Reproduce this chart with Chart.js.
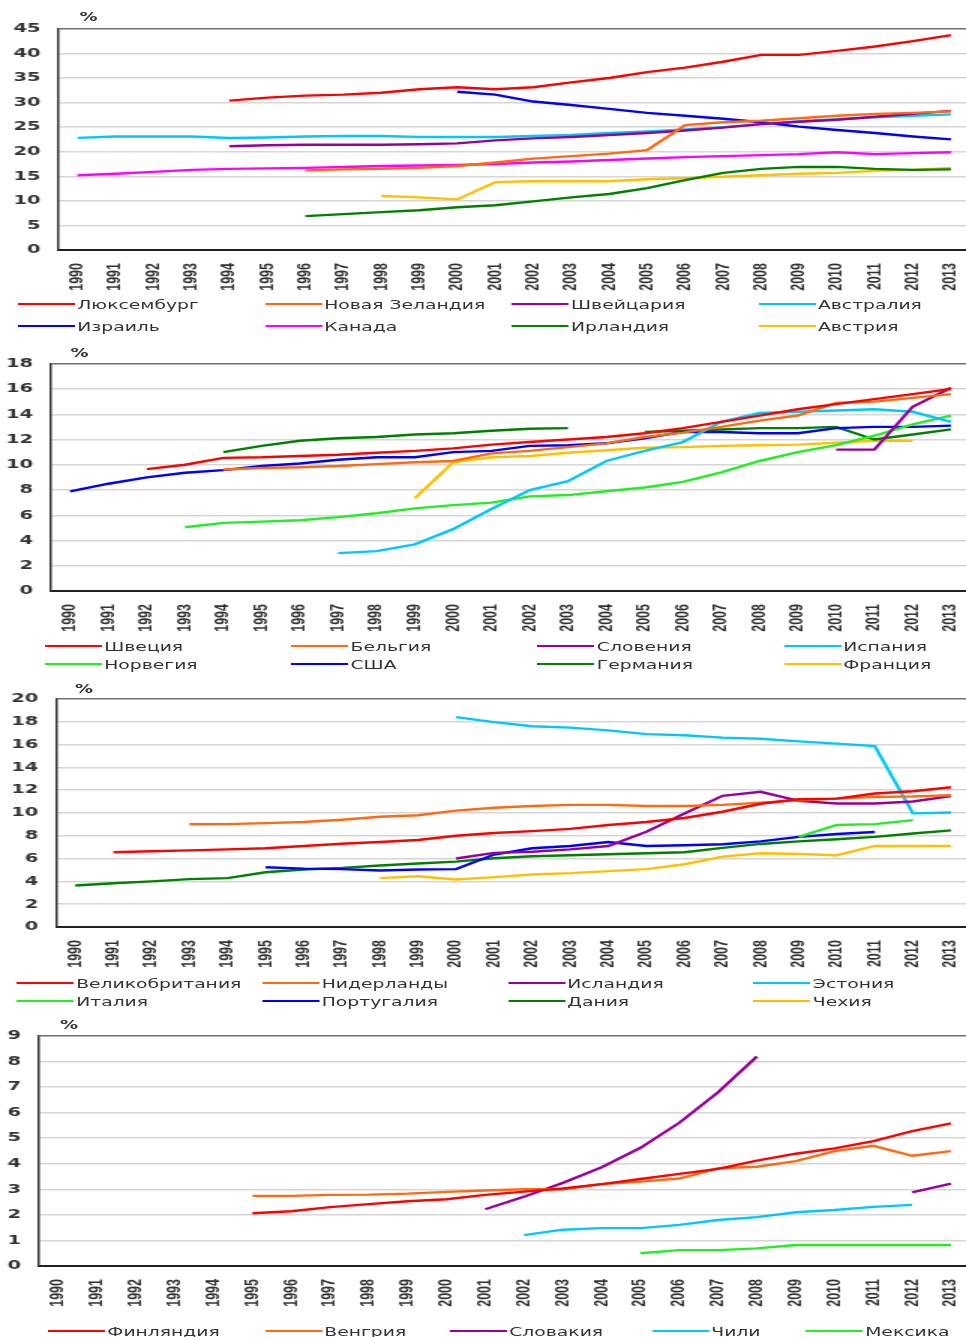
<!DOCTYPE html>
<html>
<head>
<meta charset="utf-8">
<script src="https://cdn.jsdelivr.net/npm/chart.js@4.4.1/dist/chart.umd.min.js"></script>
<style>
  html, body { margin:0; padding:0; overflow:hidden; background:#fff; width:966px; height:1337px; }
  #wrap { position:absolute; left:0; top:0; width:660px; height:1337px; transform:scaleX(1.5); transform-origin:0 0; }
  canvas { position:absolute; left:0; }
  .pct { position:absolute; font:bold 12px 'DejaVu Sans', sans-serif; color:#333; line-height:14px; }
  .lg { position:absolute; display:flex; align-items:center; height:16px; font:12.5px 'DejaVu Sans', sans-serif; color:#333; white-space:nowrap; }
  .sw { display:inline-block; width:38px; height:2.5px; margin-right:1.5px; }
</style>
</head>
<body>
<div id="wrap"></div>
<script>
// ---------- DATA ----------
const years = ['1990','1991','1992','1993','1994','1995','1996','1997','1998','1999','2000','2001',
               '2002','2003','2004','2005','2006','2007','2008','2009','2010','2011','2012','2013'];
const _ = null;

// Panel 1
const lux  = [_,_,_,_,30.4,31.0,31.4,31.6,32.0,32.7,33.1,32.7,33.1,34.1,35.0,36.2,37.1,38.3,39.7,39.7,40.5,41.4,42.5,43.7];
const nzl  = [_,_,_,_,_,_,16.2,16.4,16.5,16.7,17.1,17.8,18.6,19.1,19.6,20.3,25.4,26.0,26.3,26.8,27.3,27.7,27.9,28.2];
const che  = [_,_,_,_,21.1,21.3,21.4,21.4,21.4,21.5,21.7,22.3,22.7,23.0,23.4,23.8,24.3,24.9,25.6,26.1,26.5,27.1,27.7,28.3];
const aus  = [22.8,23.1,23.1,23.1,22.8,22.9,23.1,23.2,23.2,23.0,23.0,23.0,23.2,23.4,23.8,24.1,24.5,25.0,25.6,26.2,26.6,27.0,27.3,27.6];
const isr  = [_,_,_,_,_,_,_,_,_,_,32.2,31.6,30.2,29.5,28.7,27.9,27.3,26.7,26.0,25.1,24.4,23.8,23.1,22.5];
const can  = [15.2,15.5,15.9,16.3,16.5,16.6,16.7,16.9,17.1,17.2,17.3,17.5,17.8,18.0,18.3,18.6,18.9,19.1,19.3,19.5,19.9,19.5,19.7,19.9];
const irl  = [_,_,_,_,_,_,6.9,7.3,7.7,8.1,8.7,9.1,9.9,10.7,11.4,12.6,14.2,15.7,16.5,16.9,16.9,16.5,16.3,16.4];
const aut  = [_,_,_,_,_,_,_,_,11.0,10.7,10.3,13.8,14.0,14.0,14.0,14.4,14.6,14.9,15.2,15.5,15.7,16.1,16.3,16.7];

// Panel 2
const swe  = [_,_,9.66,10.0,10.55,10.6,10.7,10.8,10.95,11.1,11.3,11.6,11.8,12.0,12.2,12.5,12.9,13.4,13.9,14.4,14.8,15.2,15.6,16.0];
const bel  = [_,_,_,_,9.63,9.74,9.8,9.9,10.05,10.2,10.3,10.9,11.1,11.4,11.7,12.2,12.55,13.0,13.5,13.9,14.9,15.0,15.3,15.6];
const svn  = [_,_,_,_,_,_,_,_,_,_,_,_,_,_,_,_,_,_,_,_,11.2,11.2,14.6,16.1];
const esp  = [_,_,_,_,_,_,_,3.0,3.16,3.7,4.9,6.5,8.0,8.7,10.3,11.1,11.8,13.4,14.1,14.2,14.3,14.4,14.2,13.4];
const nor  = [_,_,_,5.05,5.4,5.5,5.6,5.85,6.16,6.55,6.8,7.0,7.5,7.6,7.9,8.2,8.65,9.4,10.3,11.0,11.55,12.3,13.2,13.9];
const usa  = [7.9,8.5,9.0,9.37,9.58,9.9,10.1,10.4,10.6,10.6,11.0,11.1,11.5,11.55,11.7,12.1,12.6,12.6,12.5,12.5,12.9,13.0,13.0,13.1];
const deu  = [_,_,_,_,11.0,11.5,11.9,12.1,12.2,12.4,12.5,12.7,12.85,12.9,_,12.6,12.7,12.8,12.9,12.9,13.0,12.0,12.4,12.8];
const fra  = [_,_,_,_,_,_,_,_,_,7.35,10.2,10.6,10.7,10.95,11.15,11.35,11.4,11.5,11.55,11.6,11.75,11.9,11.9,_];

// Panel 3
const gbr  = [_,6.55,6.64,6.72,6.8,6.9,7.1,7.3,7.45,7.63,8.0,8.24,8.4,8.6,8.94,9.2,9.55,10.1,10.8,11.2,11.25,11.7,11.9,12.25];
const nld  = [_,_,_,9.0,9.02,9.1,9.2,9.4,9.66,9.8,10.2,10.45,10.6,10.7,10.7,10.6,10.6,10.7,10.9,11.1,11.25,11.4,11.45,11.55];
const isl  = [_,_,_,_,_,_,_,_,_,_,6.0,6.5,6.6,6.8,7.1,8.35,9.95,11.5,11.85,11.05,10.83,10.83,11.0,11.47];
const est  = [_,_,_,_,_,_,_,_,_,_,18.4,17.96,17.6,17.47,17.23,16.9,16.8,16.6,16.5,16.27,16.07,15.86,9.96,10.04];
const ita  = [_,_,_,_,_,_,_,_,_,_,_,_,_,_,_,_,_,_,_,7.9,8.94,9.02,9.37,_];
const prt  = [_,_,_,_,_,5.24,5.12,5.07,4.95,5.04,5.07,6.35,6.9,7.1,7.45,7.1,7.16,7.25,7.5,7.9,8.15,8.33,_,_];
const dnk  = [3.64,3.84,4.0,4.2,4.28,4.8,5.04,5.18,5.39,5.56,5.73,6.03,6.2,6.29,6.38,6.46,6.55,6.93,7.28,7.5,7.69,7.9,8.2,8.47];
const cze  = [_,_,_,_,_,_,_,_,4.28,4.45,4.16,4.37,4.6,4.72,4.9,5.07,5.5,6.17,6.46,6.4,6.29,7.1,7.1,7.1];

// Panel 4
const fin  = [_,_,_,_,_,2.06,2.14,2.3,2.42,2.53,2.61,2.78,2.91,3.03,3.2,3.4,3.6,3.8,4.12,4.39,4.6,4.88,5.27,5.58];
const hun  = [_,_,_,_,_,2.74,2.74,2.78,2.79,2.83,2.9,2.95,3.0,3.0,3.2,3.3,3.42,3.82,3.88,4.1,4.49,4.7,4.31,4.49];
const svk  = [_,_,_,_,_,_,_,_,_,_,_,2.22,2.71,3.25,3.86,4.62,5.6,6.79,8.19,_,_,_,2.88,3.22];
const chl  = [_,_,_,_,_,_,_,_,_,_,_,_,1.21,1.42,1.48,1.48,1.61,1.8,1.91,2.1,2.19,2.31,2.39,_];
const mex  = [_,_,_,_,_,_,_,_,_,_,_,_,_,_,_,0.5,0.62,0.62,0.69,0.82,0.82,0.82,0.82,0.82];

// y-axis ranges
const yMax  = [45, 18, 20, 9];
const yStep = [5, 2, 2, 1];

// ---------- STYLE ----------
const C = { red:'#ff0000', orange:'#ff6a10', purple:'#990099', cyan:'#00c8f8', blue:'#0000ff',
            magenta:'#ff00ff', dgreen:'#008000', gold:'#ffc000', lgreen:'#22ee22' };

const panels = [
  { top:28, bottom:250, yw:39, pct:[53,10], legTop:[296,318], legLeft:12, stride:164.6,
    series:[['Люксембург',lux,C.red],['Новая Зеландия',nzl,C.orange],['Швейцария',che,C.purple],['Австралия',aus,C.cyan],
            ['Израиль',isr,C.blue],['Канада',can,C.magenta],['Ирландия',irl,C.dgreen],['Австрия',aut,C.gold]] },
  { top:362.5, bottom:590.5, yw:34, pct:[47,346], legTop:[638,656], legLeft:30, stride:164.2,
    series:[['Швеция',swe,C.red],['Бельгия',bel,C.orange],['Словения',svn,C.purple],['Испания',esp,C.cyan],
            ['Норвегия',nor,C.lgreen],['США',usa,C.blue],['Германия',deu,C.dgreen],['Франция',fra,C.gold]] },
  { top:698, bottom:927, yw:37.5, pct:[50,682], legTop:[975,993], legLeft:11.3, stride:163.7,
    series:[['Великобритания',gbr,C.red],['Нидерланды',nld,C.orange],['Исландия',isl,C.purple],['Эстония',est,C.cyan],
            ['Италия',ita,C.lgreen],['Португалия',prt,C.blue],['Дания',dnk,C.dgreen],['Чехия',cze,C.gold]] },
  { top:1034.5, bottom:1265, yw:26, pct:[40,1018], legTop:[1323], lefts:[32,176.7,300,434.7,537.3],
    series:[['Финляндия',fin,C.red],['Венгрия',hun,C.orange],['Словакия',svk,C.purple],['Чили',chl,C.cyan],['Мексика',mex,C.lgreen]] }
];

const wrap = document.getElementById('wrap');
const CW = 654, PADTOP = 12, OFF = 7, XH = 48;

panels.forEach((p, pi) => {
  const cv = document.createElement('canvas');
  const h = Math.round(p.bottom - p.top + PADTOP + OFF + XH);
  cv.width = CW; cv.height = h;
  cv.style.top = (p.top - PADTOP - OFF) + 'px';
  wrap.appendChild(cv);

  const max = yMax[pi];
  new Chart(cv, {
    type:'line',
    data:{
      labels: years,
      datasets: p.series.map(s => ({ label:s[0], data:s[1], borderColor:s[2], backgroundColor:s[2],
        borderWidth:2.4, pointRadius:0, pointHoverRadius:0, tension:0, spanGaps:false, fill:false }))
    },
    options:{
      responsive:false, animation:false, events:[],
      layout:{ padding:{ top:PADTOP, left:0, right:1, bottom:0 } },
      plugins:{ legend:{display:false}, tooltip:{enabled:false} },
      scales:{
        x:{
          offset:true,
          grid:{ display:false },
          border:{ display:true, color:'#222', width:2 },
          ticks:{ autoSkip:false, minRotation:90, maxRotation:90, padding:5, color:'#333',
                  font:{ family:"'Liberation Sans', Arial, sans-serif", size:12.5, weight:'bold' } },
          afterFit(s){ s.height = XH; }
        },
        y:{
          min:0, max:max,
          grid:{ drawTicks:false, color:(c)=> (c.tick && c.tick.value === max) ? '#707070' : '#d6d6d6', lineWidth:1.4 },
          border:{ display:true, color:'#333', width:1.5 },
          ticks:{ stepSize:yStep[pi], padding:12, color:'#333',
                  font:{ family:"'DejaVu Sans', sans-serif", size:13, weight:'bold' } },
          afterFit(s){ s.width = p.yw; }
        }
      }
    }
  });

  const pc = document.createElement('div');
  pc.className = 'pct'; pc.textContent = '%';
  pc.style.left = p.pct[0] + 'px'; pc.style.top = p.pct[1] + 'px';
  wrap.appendChild(pc);

  // HTML legend built from the datasets
  p.series.forEach((s, i) => {
    const it = document.createElement('div');
    it.className = 'lg';
    const left = p.lefts ? p.lefts[i] : p.legLeft + (i % 4) * p.stride;
    const top = p.lefts ? p.legTop[0] : p.legTop[Math.floor(i / 4)];
    it.style.left = left + 'px';
    it.style.top = top + 'px';
    it.innerHTML = '<span class="sw" style="background:' + s[2] + '"></span><span></span>';
    it.lastChild.textContent = s[0];
    wrap.appendChild(it);
  });
});
</script>
</body>
</html>
